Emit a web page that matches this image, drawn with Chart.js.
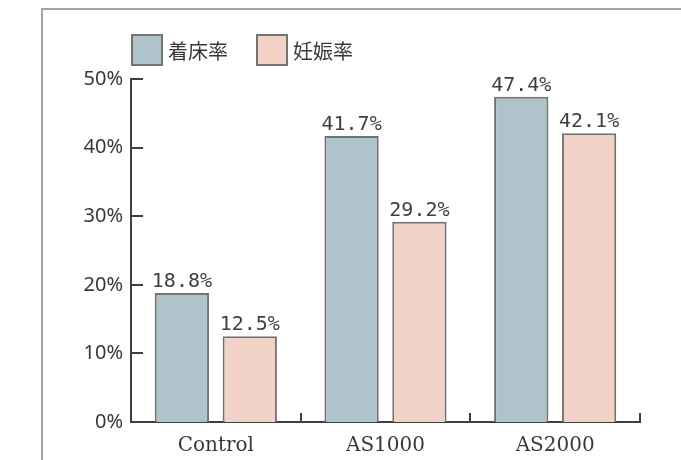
<!DOCTYPE html>
<html>
<head>
<meta charset="utf-8">
<script src="https://cdn.jsdelivr.net/npm/chart.js@4/dist/chart.umd.min.js"></script>
<style>
  html, body { margin: 0; padding: 0; background: #ffffff; }
  #wrap { width: 681px; height: 460px; position: relative; }
</style>
</head>
<body>
<div id="wrap"><canvas id="c" width="681" height="460"></canvas></div>
<script>
// ---- data ----
const categories = ['Control', 'AS1000', 'AS2000'];
const seriesLabels = ['着床率', '妊娠率'];
const implantationRate = [18.8, 41.7, 47.4];
const pregnancyRate = [12.5, 29.2, 42.1];
const yTickMin = 0;
const yTickMax = 50;
const yTickStep = 10;

// ---- styles ----
const fillColors = ['#afc4ca', '#f2d2c6'];
const edgeColor = '#737373';
const axisColor = '#3f3f3f';
const textColor = '#383838';

const framePlugin = {
  id: 'frame',
  beforeDraw(chart) {
    const ctx = chart.ctx;
    ctx.save();
    ctx.strokeStyle = '#a3a3a3';
    ctx.lineWidth = 2;
    ctx.beginPath();
    ctx.moveTo(42, chart.height);
    ctx.lineTo(42, 9);
    ctx.lineTo(chart.width, 9);
    ctx.stroke();
    ctx.restore();
  }
};

const inwardTicks = {
  id: 'inwardTicks',
  afterDraw(chart) {
    const ctx = chart.ctx;
    const y = chart.scales.y, x = chart.scales.x;
    const area = chart.chartArea;
    ctx.save();
    ctx.strokeStyle = axisColor;
    ctx.lineWidth = 2;
    ctx.beginPath();
    y.ticks.forEach(t => {
      const py = Math.round(y.getPixelForValue(t.value));
      ctx.moveTo(area.left, py);
      ctx.lineTo(area.left + 12, py);
    });
    for (let i = 1; i <= categories.length; i++) {
      const px = Math.round(x.getPixelForValue(i - 0.5));
      ctx.moveTo(px, area.bottom);
      ctx.lineTo(px, area.bottom - 9);
    }
    ctx.stroke();
    ctx.restore();
  }
};

const valueLabels = {
  id: 'valueLabels',
  afterDatasetsDraw(chart) {
    const ctx = chart.ctx;
    ctx.save();
    ctx.font = '20px "DejaVu Sans Mono"';
    ctx.fillStyle = '#404040';
    ctx.textAlign = 'center';
    ctx.textBaseline = 'alphabetic';
    chart.data.datasets.forEach((ds, di) => {
      const meta = chart.getDatasetMeta(di);
      meta.data.forEach((bar, i) => {
        ctx.fillText(ds.data[i].toFixed(1) + '%', bar.x, bar.y - 6);
      });
    });
    ctx.restore();
  }
};

const customLegend = {
  id: 'customLegend',
  afterDraw(chart) {
    const ctx = chart.ctx;
    ctx.save();
    ctx.font = '20px "Noto Sans CJK JP"';
    ctx.textBaseline = 'middle';
    ctx.textAlign = 'left';
    let x = chart.chartArea.left;
    const top = 34, size = 32;
    chart.data.datasets.forEach(ds => {
      ctx.fillStyle = ds.backgroundColor;
      ctx.fillRect(x, top, size, size);
      ctx.strokeStyle = edgeColor;
      ctx.lineWidth = 2;
      ctx.strokeRect(x + 1, top + 1, size - 2, size - 2);
      ctx.fillStyle = textColor;
      const tx = x + size + 5;
      ctx.fillText(ds.label, tx, top + size / 2 + 1);
      x = tx + ctx.measureText(ds.label).width + 28;
    });
    ctx.restore();
  }
};

new Chart(document.getElementById('c'), {
  type: 'bar',
  data: {
    labels: categories,
    datasets: [
      { label: seriesLabels[0], data: implantationRate, backgroundColor: fillColors[0], borderColor: edgeColor, borderWidth: 2 },
      { label: seriesLabels[1], data: pregnancyRate, backgroundColor: fillColors[1], borderColor: edgeColor, borderWidth: 2 }
    ]
  },
  options: {
    responsive: false,
    animation: false,
    devicePixelRatio: 1,
    layout: { padding: { left: 0, right: 41, top: 79, bottom: 0 } },
    datasets: { bar: { barPercentage: 0.8, categoryPercentage: 0.8 } },
    plugins: { legend: { display: false }, tooltip: { enabled: false } },
    scales: {
      x: {
        grid: { display: false, drawTicks: false },
        border: { display: true, color: axisColor, width: 2 },
        ticks: { color: textColor, font: { family: 'DejaVu Serif', size: 20 }, padding: 12, maxRotation: 0 },
        afterFit(scale) { scale.height = 38; scale.paddingLeft = 0; scale.paddingRight = 0; }
      },
      y: {
        min: yTickMin, max: yTickMax,
        grid: { display: false, drawTicks: false },
        border: { display: true, color: axisColor, width: 2 },
        ticks: { stepSize: yTickStep, color: textColor, font: { family: 'Noto Sans', size: 20 }, padding: 8,
                 callback: v => v + '%' },
        afterFit(scale) { scale.width = 131; scale.paddingTop = 0; scale.paddingBottom = 0; }
      }
    }
  },
  plugins: [framePlugin, inwardTicks, valueLabels, customLegend]
});
</script>
</body>
</html>
